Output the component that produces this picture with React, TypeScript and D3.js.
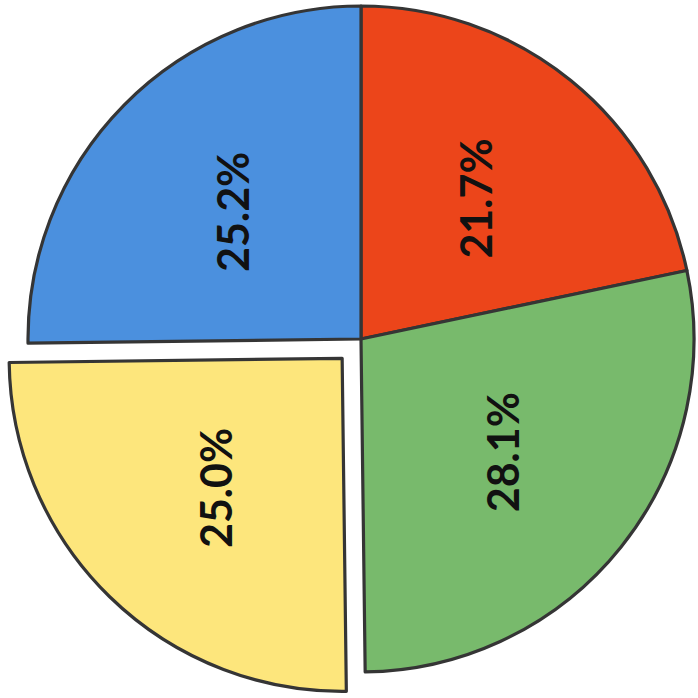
import React from 'react';
import * as d3 from 'd3';

// slices clockwise from 12 o'clock
const labels = ['21.7%', '28.1%', '25.0%', '25.2%'];
const values = [21.7, 28.1, 25.0, 25.2];
const colors = ['#ec451a', '#78ba6c', '#fde67c', '#4b90de'];
const exploded = [false, false, true, false];

const App = () => {
  const width = 698;
  const height = 698;
  const cx = 361;
  const cy = 339;
  const radius = 333;
  const explode = 27;
  const labelRadius = 181;

  const pie = d3.pie<number>().sort(null).startAngle(0).endAngle(2 * Math.PI);
  const arcs = pie(values);
  const arc = d3.arc<d3.PieArcDatum<number>>().innerRadius(0).outerRadius(radius);
  const labelArc = d3.arc<d3.PieArcDatum<number>>().innerRadius(labelRadius).outerRadius(labelRadius);

  const slices = arcs.map((d, i) => {
    const mid = (d.startAngle + d.endAngle) / 2;
    const off = exploded[i] ? explode : 0;
    const dx = Math.sin(mid) * off;
    const dy = -Math.cos(mid) * off;
    const [lx, ly] = labelArc.centroid(d);
    return (
      <g key={i} transform={'translate(' + dx + ',' + dy + ')'}>
        <path
          d={arc(d) || ''}
          fill={colors[i]}
          stroke="#353535"
          strokeWidth={3.2}
          strokeLinejoin="round"
        />
        <text
          transform={'translate(' + lx + ',' + ly + ') rotate(-90)'}
          textAnchor="middle"
          dominantBaseline="central"
          fontFamily="Lato, 'Liberation Sans', Arial, sans-serif"
          fontWeight="bold"
          fontSize={43}
          fill="#111"
        >
          {labels[i]}
        </text>
      </g>
    );
  });

  return (
    <svg
      width={width}
      height={height}
      style={{ position: 'absolute', left: 0, top: 0, background: '#fff' }}
    >
      <g transform={'translate(' + cx + ',' + cy + ')'}>{slices}</g>
    </svg>
  );
};

export default App;
